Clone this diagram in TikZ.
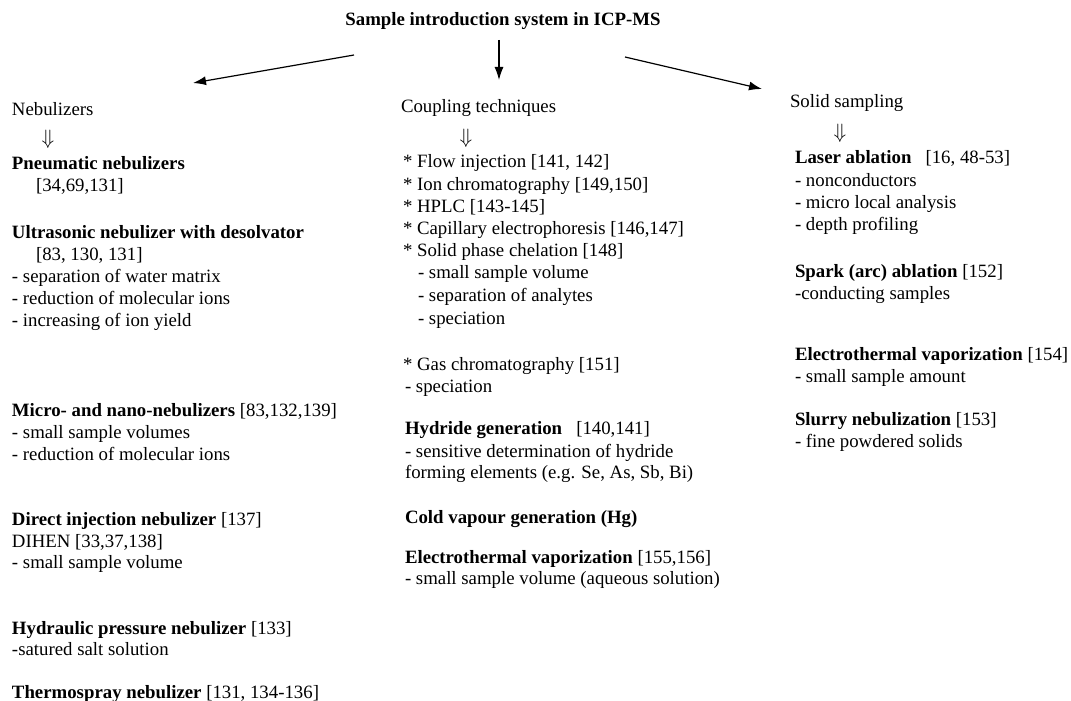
\documentclass[tikz,border=0pt]{standalone}
\usepackage{fontspec}
\setmainfont{Liberation Serif}
\usetikzlibrary{arrows.meta}
\begin{document}
\begin{tikzpicture}[x=1pt,y=-1pt,
  txt/.style={anchor=mid west,inner sep=0pt,outer sep=0pt,yshift=-3pt,font=\fontsize{18.8}{21.7}\selectfont},
  ttl/.style={anchor=mid,inner sep=0pt,yshift=-3pt,font=\fontsize{18.8}{21.7}\selectfont\bfseries},
  dar/.style={anchor=center,inner sep=0pt,font=\fontsize{21}{24}\selectfont},
  conn/.style={line width=1.2pt,-{Latex[length=13pt,width=9pt]}}]
\clip (0,0) rectangle (1071,701);
\fill[white] (0,0) rectangle (1071,701);
% title and arrows
\node[ttl] (title) at (503,20) {Sample introduction system in ICP-MS};
\coordinate (lt) at (354,55);  \coordinate (lh) at (193,83);
\coordinate (mt) at (499,40);  \coordinate (mh) at (499,80);
\coordinate (rt) at (625,57);  \coordinate (rh) at (762,89);
\draw[conn] (lt) -- (lh);
\draw[conn] (mt) -- (mh);
\draw[conn] (rt) -- (rh);
% headings
\node[txt] (neb) at (12,110) {Nebulizers};
\node[txt] (cpl) at (401,107) {Coupling techniques};
\node[txt] (sol) at (790,102) {Solid sampling};
\node[dar] (d1) at (48,139) {$\Downarrow$};
\node[dar] (d2) at (466,138) {$\Downarrow$};
\node[dar] (d3) at (840,133) {$\Downarrow$};
% left column
\node[txt] (l1)  at (12,164) {\textbf{Pneumatic nebulizers}};
\node[txt] (l2)  at (36,186) {[34,69,131]};
\node[txt] (l3)  at (12,233) {\textbf{Ultrasonic nebulizer with desolvator}};
\node[txt] (l4)  at (36,255) {[83, 130, 131]};
\node[txt] (l5)  at (12,277) {- separation of water matrix};
\node[txt] (l6)  at (12,299) {- reduction of molecular ions};
\node[txt] (l7)  at (12,321) {- increasing of ion yield};
\node[txt] (l8)  at (12,411) {\textbf{Micro- and nano-nebulizers} [83,132,139]};
\node[txt] (l9)  at (12,433) {- small sample volumes};
\node[txt] (l10) at (12,455) {- reduction of molecular ions};
\node[txt] (l11) at (12,520) {\textbf{Direct injection nebulizer} [137]};
\node[txt] (l12) at (12,542) {DIHEN [33,37,138]};
\node[txt] (l13) at (12,563) {- small sample volume};
\node[txt] (l14) at (12,629) {\textbf{Hydraulic pressure nebulizer} [133]};
\node[txt] (l15) at (12,650) {-satured salt solution};
\node[txt] (l16) at (12,693) {\textbf{Thermospray nebulizer} [131, 134-136]};
% middle column
\node[txt] (m1)  at (403,162) {* Flow injection [141, 142]};
\node[txt] (m2)  at (403,185) {* Ion chromatography [149,150]};
\node[txt] (m3)  at (403,207) {* HPLC [143-145]};
\node[txt] (m4)  at (403,229) {* Capillary electrophoresis [146,147]};
\node[txt] (m5)  at (403,251) {* Solid phase chelation [148]};
\node[txt] (m6)  at (418,273) {- small sample volume};
\node[txt] (m7)  at (418,296) {- separation of analytes};
\node[txt] (m8)  at (418,319) {- speciation};
\node[txt] (m9)  at (403,365) {* Gas chromatography [151]};
\node[txt] (m10) at (405,387) {- speciation};
\node[txt] (m11) at (405,429) {\textbf{Hydride generation}\hspace{0.5em} [140,141]};
\node[txt] (m12) at (405,452) {- sensitive determination of hydride};
\node[txt] (m13) at (405,473) {forming elements (e.g. Se, As, Sb, Bi)};
\node[txt] (m14) at (405,518) {\textbf{Cold vapour generation (Hg)}};
\node[txt] (m15) at (405,558) {\textbf{Electrothermal vaporization} [155,156]};
\node[txt] (m16) at (405,579) {- small sample volume (aqueous solution)};
% right column
\node[txt] (r1)  at (795,158) {\textbf{Laser ablation}\hspace{0.5em} [16, 48-53]};
\node[txt] (r2)  at (795,181) {- nonconductors};
\node[txt] (r3)  at (795,203) {- micro local analysis};
\node[txt] (r4)  at (795,225) {- depth profiling};
\node[txt] (r5)  at (795,272) {\textbf{Spark (arc) ablation} [152]};
\node[txt] (r6)  at (795,294) {-conducting samples};
\node[txt] (r7)  at (795,355) {\textbf{Electrothermal vaporization} [154]};
\node[txt] (r8)  at (795,377) {- small sample amount};
\node[txt] (r9)  at (795,420) {\textbf{Slurry nebulization} [153]};
\node[txt] (r10) at (795,442) {- fine powdered solids};
\end{tikzpicture}
\end{document}
